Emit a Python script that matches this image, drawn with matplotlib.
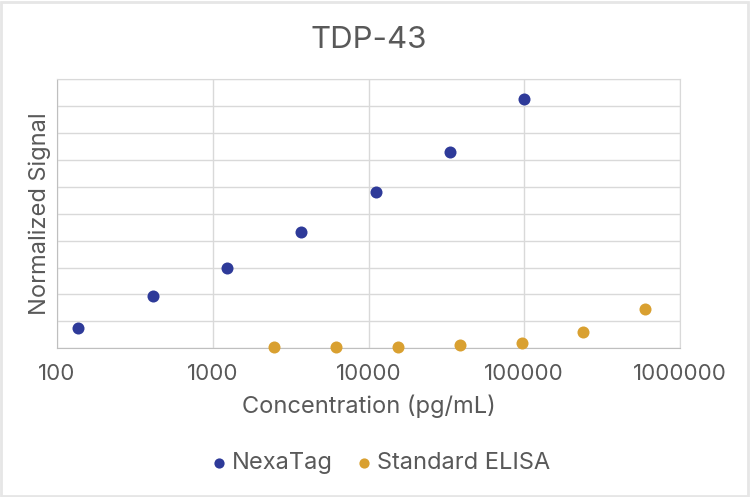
import matplotlib
matplotlib.use('Agg')
import matplotlib.pyplot as plt
from matplotlib.patches import Rectangle

# values
nexa_conc = [137, 412, 1235, 3704, 11111, 33333, 100000]
nexa_signal = [0.74, 1.93, 2.98, 4.32, 5.80, 7.28, 9.25]

elisa_conc = [2458, 6144, 15360, 38400, 96000, 240000, 600000]
elisa_signal = [0.04, 0.04, 0.06, 0.11, 0.21, 0.59, 1.46]

x_ticks = [100, 1000, 10000, 100000, 1000000]
x_tick_labels = ['100', '1000', '10000', '100000', '1000000']

text_color = '#595959'
grid_color = '#d9d9d9'

plt.rcParams['font.family'] = ['Inter', 'DejaVu Sans']

fig = plt.figure(figsize=(7.5, 4.97), dpi=100)
ax = fig.add_axes([0.076, 0.2992, 0.8307, 0.5418])

ax.scatter(nexa_conc, nexa_signal, s=75, color='#2e3a99', label='NexaTag', zorder=3, linewidths=0)
ax.scatter(elisa_conc, elisa_signal, s=75, color='#d9a030', label='Standard ELISA', zorder=3,
           linewidths=0, clip_on=False)

ax.set_xscale('log')
ax.set_xlim(100, 1000000)
ax.set_ylim(0, 10)
ax.set_xticks(x_ticks)
ax.set_xticklabels(x_tick_labels)
ax.minorticks_off()
ax.set_yticks(range(0, 11))
ax.set_yticklabels([])
ax.tick_params(axis='both', length=0, labelsize=16, labelcolor=text_color)
ax.tick_params(axis='x', pad=11)

ax.grid(True, color=grid_color, linewidth=1)
ax.set_axisbelow(True)
for side in ['top', 'right']:
    ax.spines[side].set_color(grid_color)
for side in ['left', 'bottom']:
    ax.spines[side].set_color('#bfbfbf')

ax.set_title('TDP-43', fontsize=22.5, color=text_color, pad=22)
ax.set_xlabel('Concentration (pg/mL)', fontsize=17, color=text_color, labelpad=8)
ax.set_ylabel('Normalized Signal', fontsize=17, color=text_color, labelpad=1)

fig.legend(loc='center', bbox_to_anchor=(0.508, 0.068), ncol=2, frameon=False,
           fontsize=17, labelcolor=text_color, handlelength=0.6, handletextpad=0.25,
           columnspacing=1.0, markerscale=0.85)

# light frame around the whole picture
fig.patches.append(Rectangle((0.001, 0.002), 0.996, 0.994, transform=fig.transFigure,
                             fill=False, edgecolor='#e6e6e6', linewidth=2))

plt.savefig('out.png', dpi=100)
